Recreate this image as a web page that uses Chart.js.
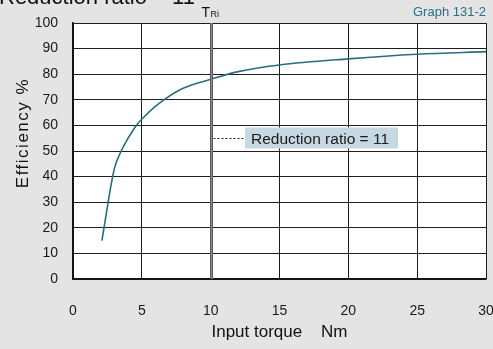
<!DOCTYPE html>
<html>
<head>
<meta charset="utf-8">
<script src="https://cdn.jsdelivr.net/npm/chart.js@4"></script>
<style>
html,body{margin:0;padding:0;background:#e4e4e4;}
#wrap{width:493px;height:349px;position:relative;}
</style>
</head>
<body>
<div id="wrap"><canvas id="c" width="493" height="349"></canvas></div>
<script>
// Data
const torque = [2.1, 3.0, 3.5, 4.0, 4.6, 5.1, 6.0, 6.6, 8.0, 10.0, 12.0, 15.0, 20.0, 25.0, 30.0];
const efficiency = [15, 43, 50, 55, 60, 63, 67.5, 70, 74.5, 78, 81, 83.6, 86, 87.8, 88.8];
const xTicks = [0, 5, 10, 15, 20, 25, 30];
const yTicks = [0, 10, 20, 30, 40, 50, 60, 70, 80, 90, 100];
const tRi = 10;
const titleText = "Reduction ratio = 11";
const graphLabel = "Graph 131-2";
const annotationText = "Reduction ratio = 11";
const annotationY = 55;
const xTitle = "Input torque    Nm";
const yTitle = "Efficiency %";

const points = torque.map((x, i) => ({x: x, y: efficiency[i]}));
const FONT = "'Liberation Sans', Arial, Helvetica, sans-serif";

const decor = {
  id: 'decor',
  beforeDraw(chart) {
    const {ctx, chartArea: a} = chart;
    ctx.save();
    ctx.fillStyle = '#e4e4e4';
    ctx.fillRect(0, 0, chart.width, chart.height);
    ctx.fillStyle = '#ffffff';
    ctx.fillRect(a.left, a.top, a.right - a.left, a.bottom - a.top);
    ctx.restore();
  },
  afterDatasetsDraw(chart) {
    const {ctx, chartArea: a, scales} = chart;
    const xs = scales.x, ys = scales.y;
    ctx.save();
    // T_Ri vertical line (double line with teal core)
    const px = Math.round(xs.getPixelForValue(tRi)) + 0.5;
    ctx.lineWidth = 1;
    ctx.strokeStyle = '#5a5a5a';
    ctx.beginPath();
    ctx.moveTo(px - 1, a.top); ctx.lineTo(px - 1, a.bottom);
    ctx.moveTo(px + 1, a.top); ctx.lineTo(px + 1, a.bottom);
    ctx.stroke();
    ctx.strokeStyle = '#5f9bb0';
    ctx.beginPath(); ctx.moveTo(px, a.top); ctx.lineTo(px, a.bottom); ctx.stroke();
    // T_Ri label
    ctx.fillStyle = '#111';
    ctx.textBaseline = 'alphabetic';
    ctx.textAlign = 'left';
    ctx.font = '14px ' + FONT;
    ctx.fillText('T', px - 10, 17);
    ctx.font = '9px ' + FONT;
    ctx.fillText('Ri', px - 1, 17);
    // annotation
    const ay = Math.round(ys.getPixelForValue(annotationY)) + 0.5;
    const bx = 245, bw = 153, bh = 21;
    ctx.fillStyle = '#c6d8e1';
    ctx.fillRect(bx, ay - 11, bw, bh);
    ctx.strokeStyle = '#222';
    ctx.lineWidth = 1;
    ctx.setLineDash([2, 2]);
    ctx.beginPath(); ctx.moveTo(px + 2, ay); ctx.lineTo(bx, ay); ctx.stroke();
    ctx.setLineDash([]);
    ctx.fillStyle = '#1a1a1a';
    ctx.font = '15.5px ' + FONT;
    ctx.textBaseline = 'middle';
    ctx.fillText(annotationText, bx + 6, ay + 1);
    // title (cut at top)
    ctx.textBaseline = 'alphabetic';
    ctx.font = '22px ' + FONT;
    ctx.fillStyle = '#111';
    ctx.fillText(titleText, -1, 4);
    // graph label
    ctx.textAlign = 'right';
    ctx.font = '13px ' + FONT;
    ctx.fillStyle = '#2d6f87';
    ctx.fillText(graphLabel, 486, 16);
    // y title
    ctx.save();
    ctx.translate(23, 133);
    ctx.rotate(-Math.PI / 2);
    ctx.textAlign = 'center';
    ctx.textBaseline = 'middle';
    ctx.font = '17px ' + FONT;
    ctx.fillStyle = '#111';
    if ('letterSpacing' in ctx) ctx.letterSpacing = '1.5px';
    ctx.fillText(yTitle, 0, 0);
    ctx.restore();
    ctx.restore();
  }
};

new Chart(document.getElementById('c'), {
  type: 'line',
  data: {
    datasets: [{
      data: points,
      borderColor: '#2c6c83',
      borderWidth: 1.6,
      pointRadius: 0,
      fill: false,
      cubicInterpolationMode: 'monotone'
    }]
  },
  options: {
    responsive: false,
    animation: false,
    devicePixelRatio: 1,
    layout: {padding: {top: 23, right: 7, left: 0, bottom: 0}},
    plugins: {legend: {display: false}, tooltip: {enabled: false}, title: {display: false}},
    scales: {
      x: {
        type: 'linear',
        min: 0, max: 30,
        afterBuildTicks: s => { s.ticks = xTicks.map(v => ({value: v})); },
        afterFit: s => { s.height = 70; s.paddingLeft = 0; s.paddingRight = 0; },
        grid: {color: '#1e1e1e', lineWidth: 1, drawTicks: false},
        border: {color: '#111', width: 1.5},
        ticks: {padding: 24, color: '#1a1a1a', font: {size: 14, family: FONT}, maxRotation: 0, autoSkip: false},
        title: {display: true, text: xTitle, color: '#111', font: {size: 17, family: FONT}, padding: {top: 0, bottom: 6}}
      },
      y: {
        min: 0, max: 100,
        afterBuildTicks: s => { s.ticks = yTicks.map(v => ({value: v})); },
        afterFit: s => { s.width = 73; s.paddingTop = 0; s.paddingBottom = 0; },
        grid: {color: '#1e1e1e', lineWidth: 1, drawTicks: false},
        border: {color: '#111', width: 1.5},
        ticks: {padding: 15, color: '#1a1a1a', font: {size: 14, family: FONT}, autoSkip: false},
        title: {display: false}
      }
    }
  },
  plugins: [decor]
});
</script>
</body>
</html>
